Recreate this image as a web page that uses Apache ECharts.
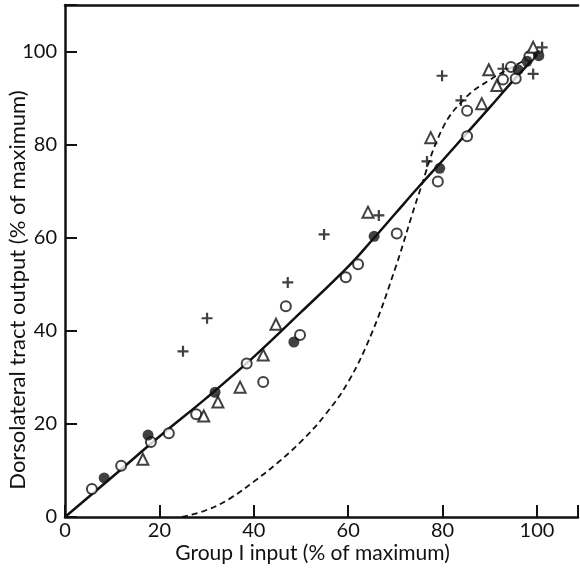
<!DOCTYPE html>
<html>
<head>
<meta charset="utf-8">
<script src="https://cdn.jsdelivr.net/npm/echarts@6/dist/echarts.min.js"></script>
<style>html,body{margin:0;padding:0;background:#fff}#c{width:580px;height:573px}</style>
</head>
<body>
<div id="c"></div>
<script>
// Data
const xTicks = [0, 20, 40, 60, 80, 100];
const yTicks = [0, 20, 40, 60, 80, 100];
const xTitle = 'Group I input (% of maximum)';
const yTitle = 'Dorsolateral tract output (% of maximum)';

const filledCircles = [[8.3,8.4],[17.6,17.6],[31.8,26.8],[48.5,37.6],[65.5,60.3],[79.4,74.9],[96.0,96.1],[97.9,97.9],[100.4,99.1]];
const openCircles = [[5.7,6.0],[11.9,11.0],[18.2,16.1],[22.0,18.0],[27.8,22.1],[38.5,33.0],[42.0,29.0],[46.8,45.3],[49.8,39.1],[59.5,51.5],[62.1,54.3],[70.3,60.9],[79.0,72.1],[85.2,81.8],[85.2,87.3],[92.8,94.0],[94.5,96.7],[95.5,94.2],[98.4,99.0]];
const triangles = [[16.5,12.4],[29.4,21.7],[32.4,24.7],[37.1,27.9],[42.0,34.8],[44.7,41.4],[64.2,65.5],[77.5,81.5],[88.3,88.8],[89.8,96.1],[91.5,92.7],[99.2,100.9]];
const crosses = [[25.0,35.6],[30.1,42.7],[47.2,50.4],[54.9,60.7],[66.5,64.8],[76.7,76.4],[79.9,94.8],[83.9,89.5],[92.8,96.3],[99.2,95.2],[101.1,100.9]];

const solidCurve = [[0,0],[10,8.6],[20,17.3],[30,25.6],[40,34.4],[50,44.0],[60,53.8],[65,59.4],[70,65.2],[75,71.0],[80,76.6],[85,82.3],[90,88.0],[95,93.8],[100,99.3]];
const dashedCurve = [[24.8,0],[30,1.5],[35,4.0],[40,7.6],[45,11.6],[50,16.2],[55,21.8],[60,29.0],[65,39.5],[70,53.5],[75,69.5],[80,83.5],[85,90.2],[90,93.9],[95,96.8],[100,99.5]];

const FONT = 'Lato';
const chart = echarts.init(document.getElementById('c'), null, {renderer:'canvas'});
const plus = 'path://M4,0H6V4H10V6H6V10H4V6H0V4H4Z';
chart.setOption({
  animation: false,
  backgroundColor: '#fff',
  grid: {left: 65, right: 2, top: 5, bottom: 56, containLabel: false, outerBoundsMode: 'none'},
  xAxis: [{
    type: 'value', min: 0, max: 108.7, interval: 20,
    name: xTitle, nameLocation: 'middle', nameGap: 26, nameMoveOverlap: false,
    nameTextStyle: {fontFamily: FONT, fontSize: 21, color: '#111', padding: [0, 18, 0, 0]},
    axisLine: {lineStyle: {color: '#111', width: 2.5}},
    axisTick: {inside: true, length: 12, lineStyle: {color: '#111', width: 2}},
    axisLabel: {fontFamily: FONT, fontSize: 20, color: '#111', margin: 4,
      formatter: v => xTicks.includes(v) ? String(v) : ''},
    splitLine: {show: false}
  }, {
    type: 'value', position: 'top', min: 0, max: 108.7,
    axisLine: {show: true, lineStyle: {color: '#111', width: 2.5}},
    axisTick: {show: false}, axisLabel: {show: false}, splitLine: {show: false}
  }],
  yAxis: {
    type: 'value', min: 0, max: 110, interval: 20,
    name: yTitle, nameLocation: 'middle', nameGap: 36, nameRotate: 90, nameMoveOverlap: false,
    nameTextStyle: {fontFamily: FONT, fontSize: 22, color: '#111', padding: [0, 0, 0, -58]},
    axisLine: {lineStyle: {color: '#111', width: 2.5}},
    axisTick: {inside: true, length: 12, lineStyle: {color: '#111', width: 2}},
    axisLabel: {fontFamily: FONT, fontSize: 20, color: '#111', margin: 8,
      formatter: v => yTicks.includes(v) ? String(v) : ''},
    splitLine: {show: false}
  },
  series: [
    {type: 'line', data: solidCurve, smooth: 0.4, symbol: 'none',
     lineStyle: {color: '#111', width: 2.5}, z: 2},
    {type: 'line', data: dashedCurve, smooth: 0.4, symbol: 'none',
     lineStyle: {color: '#111', width: 1.8, type: [6, 4]}, z: 2},
    {type: 'scatter', data: openCircles, symbol: 'circle', symbolSize: 10,
     itemStyle: {color: '#fff', borderColor: '#111', borderWidth: 2}, z: 3},
    {type: 'scatter', data: triangles, symbol: 'triangle', symbolSize: 11,
     itemStyle: {color: '#fff', borderColor: '#111', borderWidth: 2}, z: 3},
    {type: 'scatter', data: crosses, symbol: plus, symbolSize: 11,
     itemStyle: {color: '#111'}, z: 3},
    {type: 'scatter', data: filledCircles, symbol: 'circle', symbolSize: 11,
     itemStyle: {color: '#111'}, z: 4}
  ]
});
</script>
</body>
</html>
